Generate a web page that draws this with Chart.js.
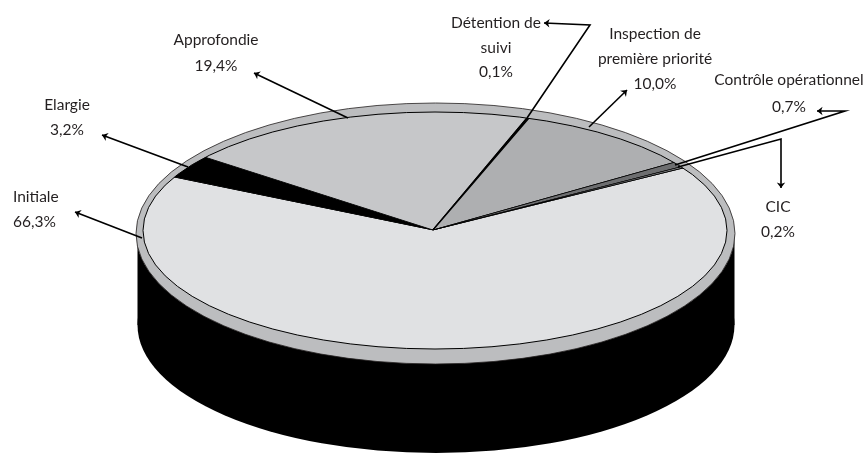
<!DOCTYPE html>
<html lang="fr">

<head>
  <meta charset="UTF-8" />
  <title>Inspections</title>
  <style>
    body { margin: 0; background: #fff; }
    canvas { display: block; }
  </style>
</head>

<body>
  <canvas id="myChart" width="865" height="454"></canvas>

  <script src="https://cdn.jsdelivr.net/npm/chart.js"></script>

  <script>
    const categories = ["Initiale", "Elargie", "Approfondie", "Détention de\nsuivi", "Inspection de\npremière priorité", "Contrôle opérationnel", "CIC"];
    const shares = [66.3, 3.2, 19.4, 0.1, 10.0, 0.7, 0.2];
    const sliceColors = ["#e0e1e3", "#000000", "#c6c7c9", "#58595b", "#aeafb1", "#6d6e70", "#939598"];

    // text anchors: centre x (or left x) and first baseline
    const labelSpots = [
      { x: 13, y: 202, align: "left", gap: 25 },
      { x: 67, y: 110, gap: 25 },
      { x: 216, y: 45, gap: 26 },
      { x: 496, y: 28, gap: 24.5 },
      { x: 655, y: 39, gap: 25 },
      { x: 789, y: 85, gap: 27 },
      { x: 778, y: 212, gap: 25 },
    ];

    // leader lines, arrow head at the last point
    const leaders = [
      [[142, 238], [75, 212]],
      [[188, 167], [102, 135]],
      [[348, 118], [254, 73]],
      [[527, 118], [590, 25], [544, 23]],
      [[589, 127], [627, 90]],
      [[675, 165], [845, 111], [817, 111]],
      [[678, 167], [781, 139], [781, 188]],
    ];

    const apex = { x: 433, y: 230 };
    const top_ = { x: 435, y: 230.5, rx: 292, ry: 118.5 };
    const rim = { x: 435.5, y: 233.5, rx: 299.5, ry: 130.5 };
    const base = { x: 436, y: 325, rx: 298.5, ry: 128 };

    function ellipse(ctx, e) {
      ctx.beginPath();
      ctx.ellipse(e.x, e.y, e.rx, e.ry, 0, 0, Math.PI * 2);
    }

    function arrow(ctx, pts) {
      ctx.beginPath();
      pts.forEach((p, i) => (i ? ctx.lineTo(p[0], p[1]) : ctx.moveTo(p[0], p[1])));
      ctx.lineWidth = 1.6;
      ctx.strokeStyle = "#000";
      ctx.stroke();
      const a = pts[pts.length - 1];
      const b = pts[pts.length - 2];
      const ang = Math.atan2(b[1] - a[1], b[0] - a[0]);
      ctx.beginPath();
      ctx.moveTo(a[0], a[1]);
      ctx.lineTo(a[0] + 7 * Math.cos(ang + 0.65), a[1] + 7 * Math.sin(ang + 0.65));
      ctx.lineTo(a[0] + 4 * Math.cos(ang), a[1] + 4 * Math.sin(ang));
      ctx.lineTo(a[0] + 7 * Math.cos(ang - 0.65), a[1] + 7 * Math.sin(ang - 0.65));
      ctx.closePath();
      ctx.fillStyle = "#000";
      ctx.fill();
    }

    const tiltedPie = {
      id: "tiltedPie",
      beforeDatasetsDraw(chart) {
        const ctx = chart.ctx;
        // black side of the drum
        ctx.fillStyle = "#000";
        ellipse(ctx, base);
        ctx.fill();
        ctx.fillRect(base.x - base.rx, rim.y, base.rx * 2, base.y - rim.y);
        // grey rim
        ellipse(ctx, rim);
        ctx.fillStyle = "#bcbdbf";
        ctx.fill();
        ctx.lineWidth = 0.8;
        ctx.strokeStyle = "#231f20";
        ctx.stroke();
        // squash the pie, clipped to the top face
        const c = chart.getDatasetMeta(0).data[0];
        ctx.save();
        ellipse(ctx, top_);
        ctx.clip();
        ctx.translate(apex.x, apex.y);
        ctx.scale(1.5, 0.6);
        ctx.translate(-c.x, -c.y);
      },
      afterDatasetsDraw(chart) {
        const ctx = chart.ctx;
        ctx.restore();
        ellipse(ctx, top_);
        ctx.lineWidth = 1;
        ctx.strokeStyle = "#000";
        ctx.stroke();
        leaders.forEach((pts) => arrow(ctx, pts));

        ctx.font = '15.5px Lato, "Open Sans", sans-serif';
        ctx.fillStyle = "#231f20";
        ctx.textBaseline = "alphabetic";
        categories.forEach((name, i) => {
          const s = labelSpots[i];
          const lines = name.split("\n");
          lines.push(shares[i].toFixed(1).replace(".", ",") + "%");
          ctx.textAlign = s.align || "center";
          lines.forEach((t, j) => ctx.fillText(t, s.x, s.y + j * s.gap));
        });
      },
    };

    new Chart(document.getElementById("myChart"), {
      type: "pie",
      data: {
        labels: categories,
        datasets: [
          {
            data: shares,
            backgroundColor: sliceColors,
            borderColor: "#000",
            borderWidth: 1.2,
          },
        ],
      },
      options: {
        responsive: false,
        animation: false,
        rotation: 58.2,
        events: [],
        layout: { padding: 0 },
        plugins: { legend: { display: false }, tooltip: { enabled: false } },
      },
      plugins: [tiltedPie],
    });
  </script>
</body>

</html>
